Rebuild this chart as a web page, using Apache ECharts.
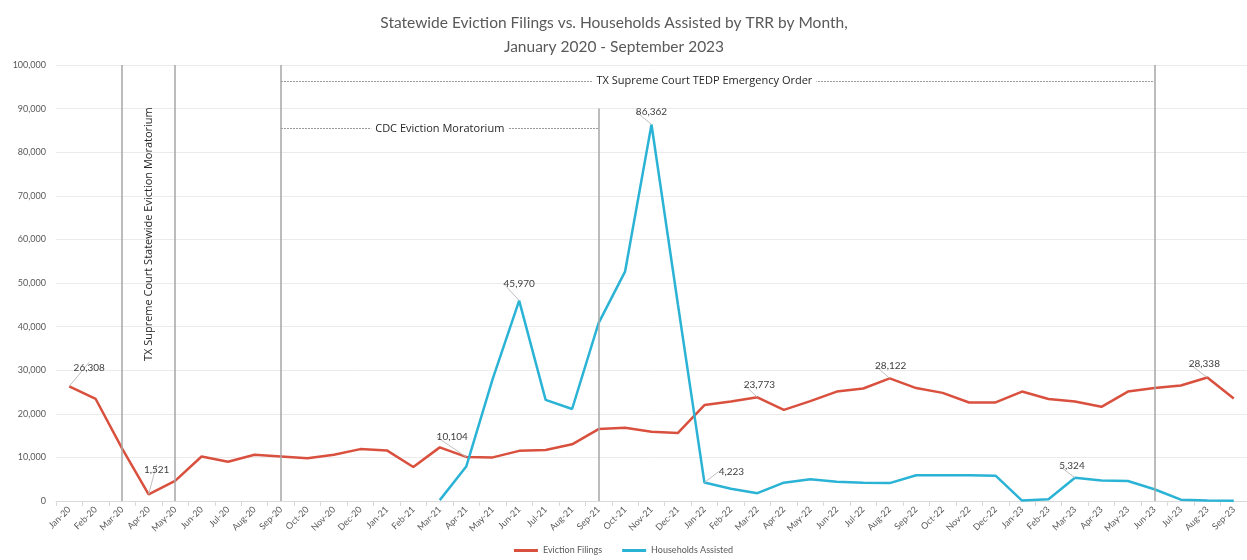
<!DOCTYPE html>
<html>
<head>
<meta charset="utf-8">
<script src="https://cdn.jsdelivr.net/npm/echarts@6/dist/echarts.min.js"></script>
<style>
  html, body { margin: 0; padding: 0; background: #fff; }
  #chart { width: 1247px; height: 560px; }
</style>
</head>
<body>
<div id="chart"></div>
<script>
// months on the x axis
const months = ['Jan-20','Feb-20','Mar-20','Apr-20','May-20','Jun-20','Jul-20','Aug-20','Sep-20','Oct-20','Nov-20','Dec-20',
  'Jan-21','Feb-21','Mar-21','Apr-21','May-21','Jun-21','Jul-21','Aug-21','Sep-21','Oct-21','Nov-21','Dec-21',
  'Jan-22','Feb-22','Mar-22','Apr-22','May-22','Jun-22','Jul-22','Aug-22','Sep-22','Oct-22','Nov-22','Dec-22',
  'Jan-23','Feb-23','Mar-23','Apr-23','May-23','Jun-23','Jul-23','Aug-23','Sep-23'];

const evictionFilings = [26308, 23400, 12000, 1521, 4600, 10200, 9000, 10600, 10200, 9800, 10600, 11900,
  11600, 7800, 12300, 10104, 10000, 11500, 11700, 13000, 16500, 16800, 15900, 15600,
  22000, 22800, 23773, 20900, 22900, 25100, 25800, 28122, 25900, 24800, 22600, 22600,
  25100, 23400, 22800, 21600, 25100, 25900, 26500, 28338, 23500];

const householdsAssisted = [null, null, null, null, null, null, null, null, null, null, null, null,
  null, null, 200, 7900, 28000, 45970, 23200, 21100, 40800, 52600, 86362, 45000,
  4223, 2800, 1800, 4200, 5000, 4400, 4200, 4100, 5900, 5900, 5900, 5800,
  100, 400, 5324, 4700, 4600, 2700, 300, 100, 50];

// months with a value label
const filingLabels = ['Jan-20', 'Apr-20', 'Apr-21', 'Mar-22', 'Aug-22', 'Aug-23'];
const assistedLabels = ['Jun-21', 'Nov-21', 'Jan-22', 'Mar-23'];

// vertical event lines
const eventMonths = ['Mar-20', 'May-20', 'Sep-20', 'Jun-23'];
const cdcEndMonth = 'Sep-21';

// label nudges (dx, dy) by month
const labelShift = {
  'Jan-20': [20, -10], 'Apr-20': [8, -16], 'Apr-21': [-14, -11], 'Mar-22': [2, -4],
  'Aug-22': [1, -4], 'Aug-23': [-3, -5], 'Jun-21': [0, -8], 'Nov-21': [0, -4],
  'Jan-22': [27, -2], 'Mar-23': [-3, -3]
};

const fmt = v => v.toLocaleString('en-US');
const RED = '#d9503e';
const BLUE = '#2bb3d6';
const GREYLINE = '#a6a6a6';

function withLabels(values, labelled) {
  return values.map((v, i) => {
    if (labelled.indexOf(months[i]) < 0) return v;
    return { value: v, label: { show: true } };
  });
}

function shiftLabel(p) {
  const s = labelShift[months[p.dataIndex]];
  return s ? { dx: s[0], dy: s[1] } : {};
}

let chart = echarts.init(document.getElementById('chart'));

const valueLabel = {
  show: false, position: 'top', distance: 4,
  fontFamily: 'Lato', fontSize: 10, color: '#404040',
  formatter: p => fmt(p.value)
};

const noteText = { fontFamily: 'Open Sans', fontSize: 11, color: '#262626' };

const option = {
  animation: false,
  title: {
    text: 'Statewide Eviction Filings vs. Households Assisted by TRR by Month,\nJanuary 2020 - September 2023',
    left: 609,
    top: 6,
    textAlign: 'center',
    textStyle: { fontFamily: 'Lato', fontWeight: 'normal', fontSize: 15.5, color: '#595959', lineHeight: 24 }
  },
  legend: {
    bottom: 0,
    left: 'center',
    itemWidth: 24,
    itemHeight: 3,
    itemGap: 20,
    icon: 'rect',
    textStyle: { fontFamily: 'Lato', fontSize: 9, color: '#595959' },
    data: ['Eviction Filings', 'Households Assisted']
  },
  grid: { left: 56, right: 0, top: 65, bottom: 59, containLabel: false },
  xAxis: {
    type: 'category',
    data: months,
    boundaryGap: true,
    axisLine: { lineStyle: { color: '#d9d9d9' } },
    axisTick: { show: true, interval: 0, lineStyle: { color: '#d9d9d9' } },
    axisLabel: { interval: 0, rotate: 45, fontFamily: 'Lato', fontSize: 9, color: '#595959', margin: 7 }
  },
  yAxis: {
    type: 'value',
    min: 0,
    max: 100000,
    interval: 10000,
    axisLine: { show: false },
    axisTick: { show: false },
    splitLine: { lineStyle: { color: '#ebebeb' } },
    axisLabel: { fontFamily: 'Lato', fontSize: 9, color: '#595959', margin: 10, formatter: fmt }
  },
  series: [
    {
      name: 'Eviction Filings',
      type: 'line',
      data: withLabels(evictionFilings, filingLabels),
      symbol: 'circle',
      symbolSize: 0,
      showSymbol: true,
      color: RED,
      lineStyle: { width: 2.5, color: RED },
      label: valueLabel,
      labelLine: { show: true, lineStyle: { color: '#bfbfbf', width: 1 } },
      labelLayout: shiftLabel,
      z: 3,
      markLine: {
        silent: true,
        symbol: 'none',
        lineStyle: { color: GREYLINE, width: 1.5, type: 'solid' },
        label: { show: false },
        data: eventMonths.map(m => [{ coord: [m, 0] }, { coord: [m, 100000] }])
          .concat([[{ coord: [cdcEndMonth, 0] }, { coord: [cdcEndMonth, 90000] }]])
      },
      markPoint: {
        silent: true,
        symbol: 'circle',
        symbolSize: 0,
        label: Object.assign({ show: true, rotate: 90, formatter: 'TX Supreme Court Statewide Eviction Moratorium' }, noteText),
        data: [{ coord: ['Apr-20', 61200] }]
      }
    },
    {
      name: 'Households Assisted',
      type: 'line',
      data: withLabels(householdsAssisted, assistedLabels),
      symbol: 'circle',
      symbolSize: 0,
      showSymbol: true,
      color: BLUE,
      lineStyle: { width: 2.5, color: BLUE },
      label: valueLabel,
      labelLine: { show: true, lineStyle: { color: '#bfbfbf', width: 1 } },
      labelLayout: shiftLabel,
      z: 3,
      markLine: {
        silent: true,
        symbol: 'none',
        lineStyle: { color: '#9a9a9a', width: 1, type: [2, 1] },
        label: Object.assign({ position: 'middle', distance: -7, backgroundColor: '#fff', padding: [1, 4] }, noteText),
        data: [
          [{ coord: ['Sep-20', 96300], label: { show: false } }, { coord: ['Jun-23', 96300] }],
          [{ coord: ['Sep-20', 85500], name: 'CDC Eviction Moratorium', label: { show: true } }, { coord: [cdcEndMonth, 85500] }]
        ]
      },
      markPoint: {
        silent: true,
        symbol: 'circle',
        symbolSize: 0,
        label: Object.assign({ show: true, backgroundColor: '#fff', padding: [1, 4], formatter: 'TX Supreme Court TEDP Emergency Order' }, noteText),
        data: [{ coord: ['Jan-22', 96300] }]
      }
    }
  ]
};

chart.setOption(option);
</script>
</body>
</html>
